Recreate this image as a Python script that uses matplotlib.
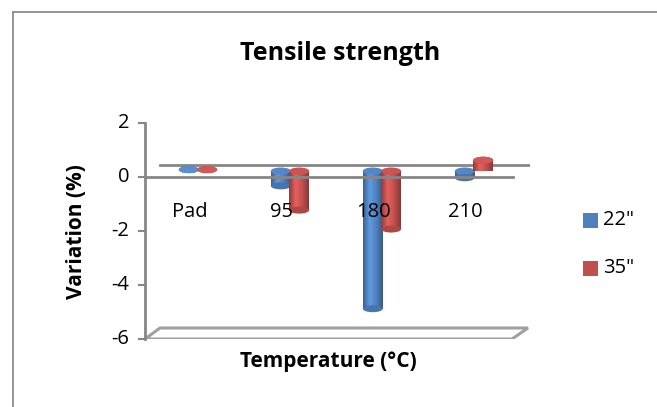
import numpy as np
import matplotlib
matplotlib.use("Agg")
import matplotlib.pyplot as plt
from matplotlib.patches import Ellipse, Polygon, Rectangle
from matplotlib.colors import LinearSegmentedColormap, to_rgb

plt.rcParams['font.family'] = ['Open Sans', 'DejaVu Sans']

categories = ['Pad', '95', '180', '210']
series_names = ['22"', '35"']
v22 = [0.05, -0.55, -5.1, -0.25]
v35 = [0.05, -1.45, -2.15, 0.4]
yticks = [2, 0, -2, -4, -6]

blue = '#4F81BD'
red = '#C0504D'
grey = '#868686'

W, H = 657, 407
fig = plt.figure(figsize=(W / 100, H / 100), dpi=100)


def shade(c, f):
    return tuple(np.clip(np.array(to_rgb(c)) * f, 0, 1))


# outer chart border (top and left visible)
fig.add_artist(plt.Line2D([13 / W, 13 / W], [0, 1 - 12 / H], color='#8c8c8c', lw=1.3))
fig.add_artist(plt.Line2D([13 / W, 1], [1 - 12 / H, 1 - 12 / H], color='#8c8c8c', lw=1.3))

# axes: y=2 at px 123, y=-6 at px 339 ; x from px 145 to 530
X0, X1 = -0.576, 3.609
ax = fig.add_axes([145 / W, (H - 339) / H, 385 / W, 216 / H])
ax.axis('off')

px = 1 / 27.0          # data units per pixel in y
xpx = 1 / 92.0         # data units per pixel in x
depth_y = 12 * px      # vertical offset of back plane
depth_x = 15 * xpx
base = 6 * px          # bars sit halfway in depth

# floor
floor = Polygon([[X0, -6], [X1 - depth_x - 3 * xpx, -6],
                 [X1 - 2 * xpx, -6 + 11 * px], [X0 + depth_x, -6 + 11 * px]],
                closed=True, fc='white', ec='#a0a0a0', lw=2.2, zorder=1)
ax.add_patch(floor)

# left axis with ticks
ax.plot([X0, X0], [-6, 2], color=grey, lw=2, clip_on=False, zorder=2)
for t in yticks:
    ax.plot([X0 - 6 * xpx, X0], [t, t], color=grey, lw=1.5, clip_on=False)
    ax.text(X0 - 16 * xpx, t, str(t), ha='right', va='center', fontsize=14.5)

# zero lines (back and front)
ax.plot([X0 + depth_x, X1], [depth_y, depth_y], color=grey, lw=2, zorder=2)
ax.plot([X0, X1 - depth_x - 2 * xpx], [0, 0], color=grey, lw=2, zorder=6)

bw = 20 * xpx
eh = 7 * px


def cylinder(xc, val, color, z):
    top = base
    bot = base + val
    lo, hi = min(top, bot), max(top, bot)
    cmap = LinearSegmentedColormap.from_list('c', [
        shade(color, 0.75), shade(color, 1.2), shade(color, 1.0), shade(color, 0.7)])
    grad = np.linspace(0, 1, 64).reshape(1, -1)
    if hi - lo > 1e-6:
        im = ax.imshow(grad, cmap=cmap, aspect='auto', zorder=z,
                       extent=[xc - bw / 2, xc + bw / 2, lo, hi])
        clip = Rectangle((xc - bw / 2, lo), bw, hi - lo, transform=ax.transData)
        im.set_clip_path(clip)
    ax.add_patch(Ellipse((xc, bot), bw, eh, fc=shade(color, 0.9), ec='none', zorder=z + 0.1))
    if val > 0:
        ax.add_patch(Ellipse((xc, bot), bw, eh, fc=shade(color, 1.1), ec='none', zorder=z + 0.2))
    else:
        ax.add_patch(Ellipse((xc, top), bw, eh, fc=shade(color, 1.05), ec='none', zorder=z + 0.05))


off = 0.1
for i in range(len(categories)):
    cylinder(i - off, v22[i], blue, 4)
    cylinder(i + off, v35[i], red, 4.5)

ax.set_xlim(X0, X1)
ax.set_ylim(-6, 2)

# category labels inside the plot
for i, c in enumerate(categories):
    ax.text(i - 0.09, -1.3, c, ha='center', va='center', fontsize=14.5, zorder=7)

# titles
fig.text(340 / W, 1 - 53 / H, 'Tensile strength', ha='center', va='center',
         fontsize=18, fontweight='bold')
fig.text(328 / W, 1 - 362 / H, 'Temperature (°C)', ha='center', va='center',
         fontsize=15, fontweight='bold')
fig.text(76 / W, 1 - 232 / H, 'Variation (%)', ha='center', va='center',
         fontsize=15, fontweight='bold', rotation=90)

# legend
for name, color, ypx in [(series_names[0], blue, 220), (series_names[1], red, 268)]:
    fig.add_artist(Rectangle((583 / W, 1 - (ypx + 7.5) / H), 15 / W, 15 / H,
                             transform=fig.transFigure, fc=color, ec='none'))
    fig.text(603 / W, 1 - ypx / H, name, ha='left', va='center', fontsize=14.5)

fig.savefig('out.png', dpi=100)
